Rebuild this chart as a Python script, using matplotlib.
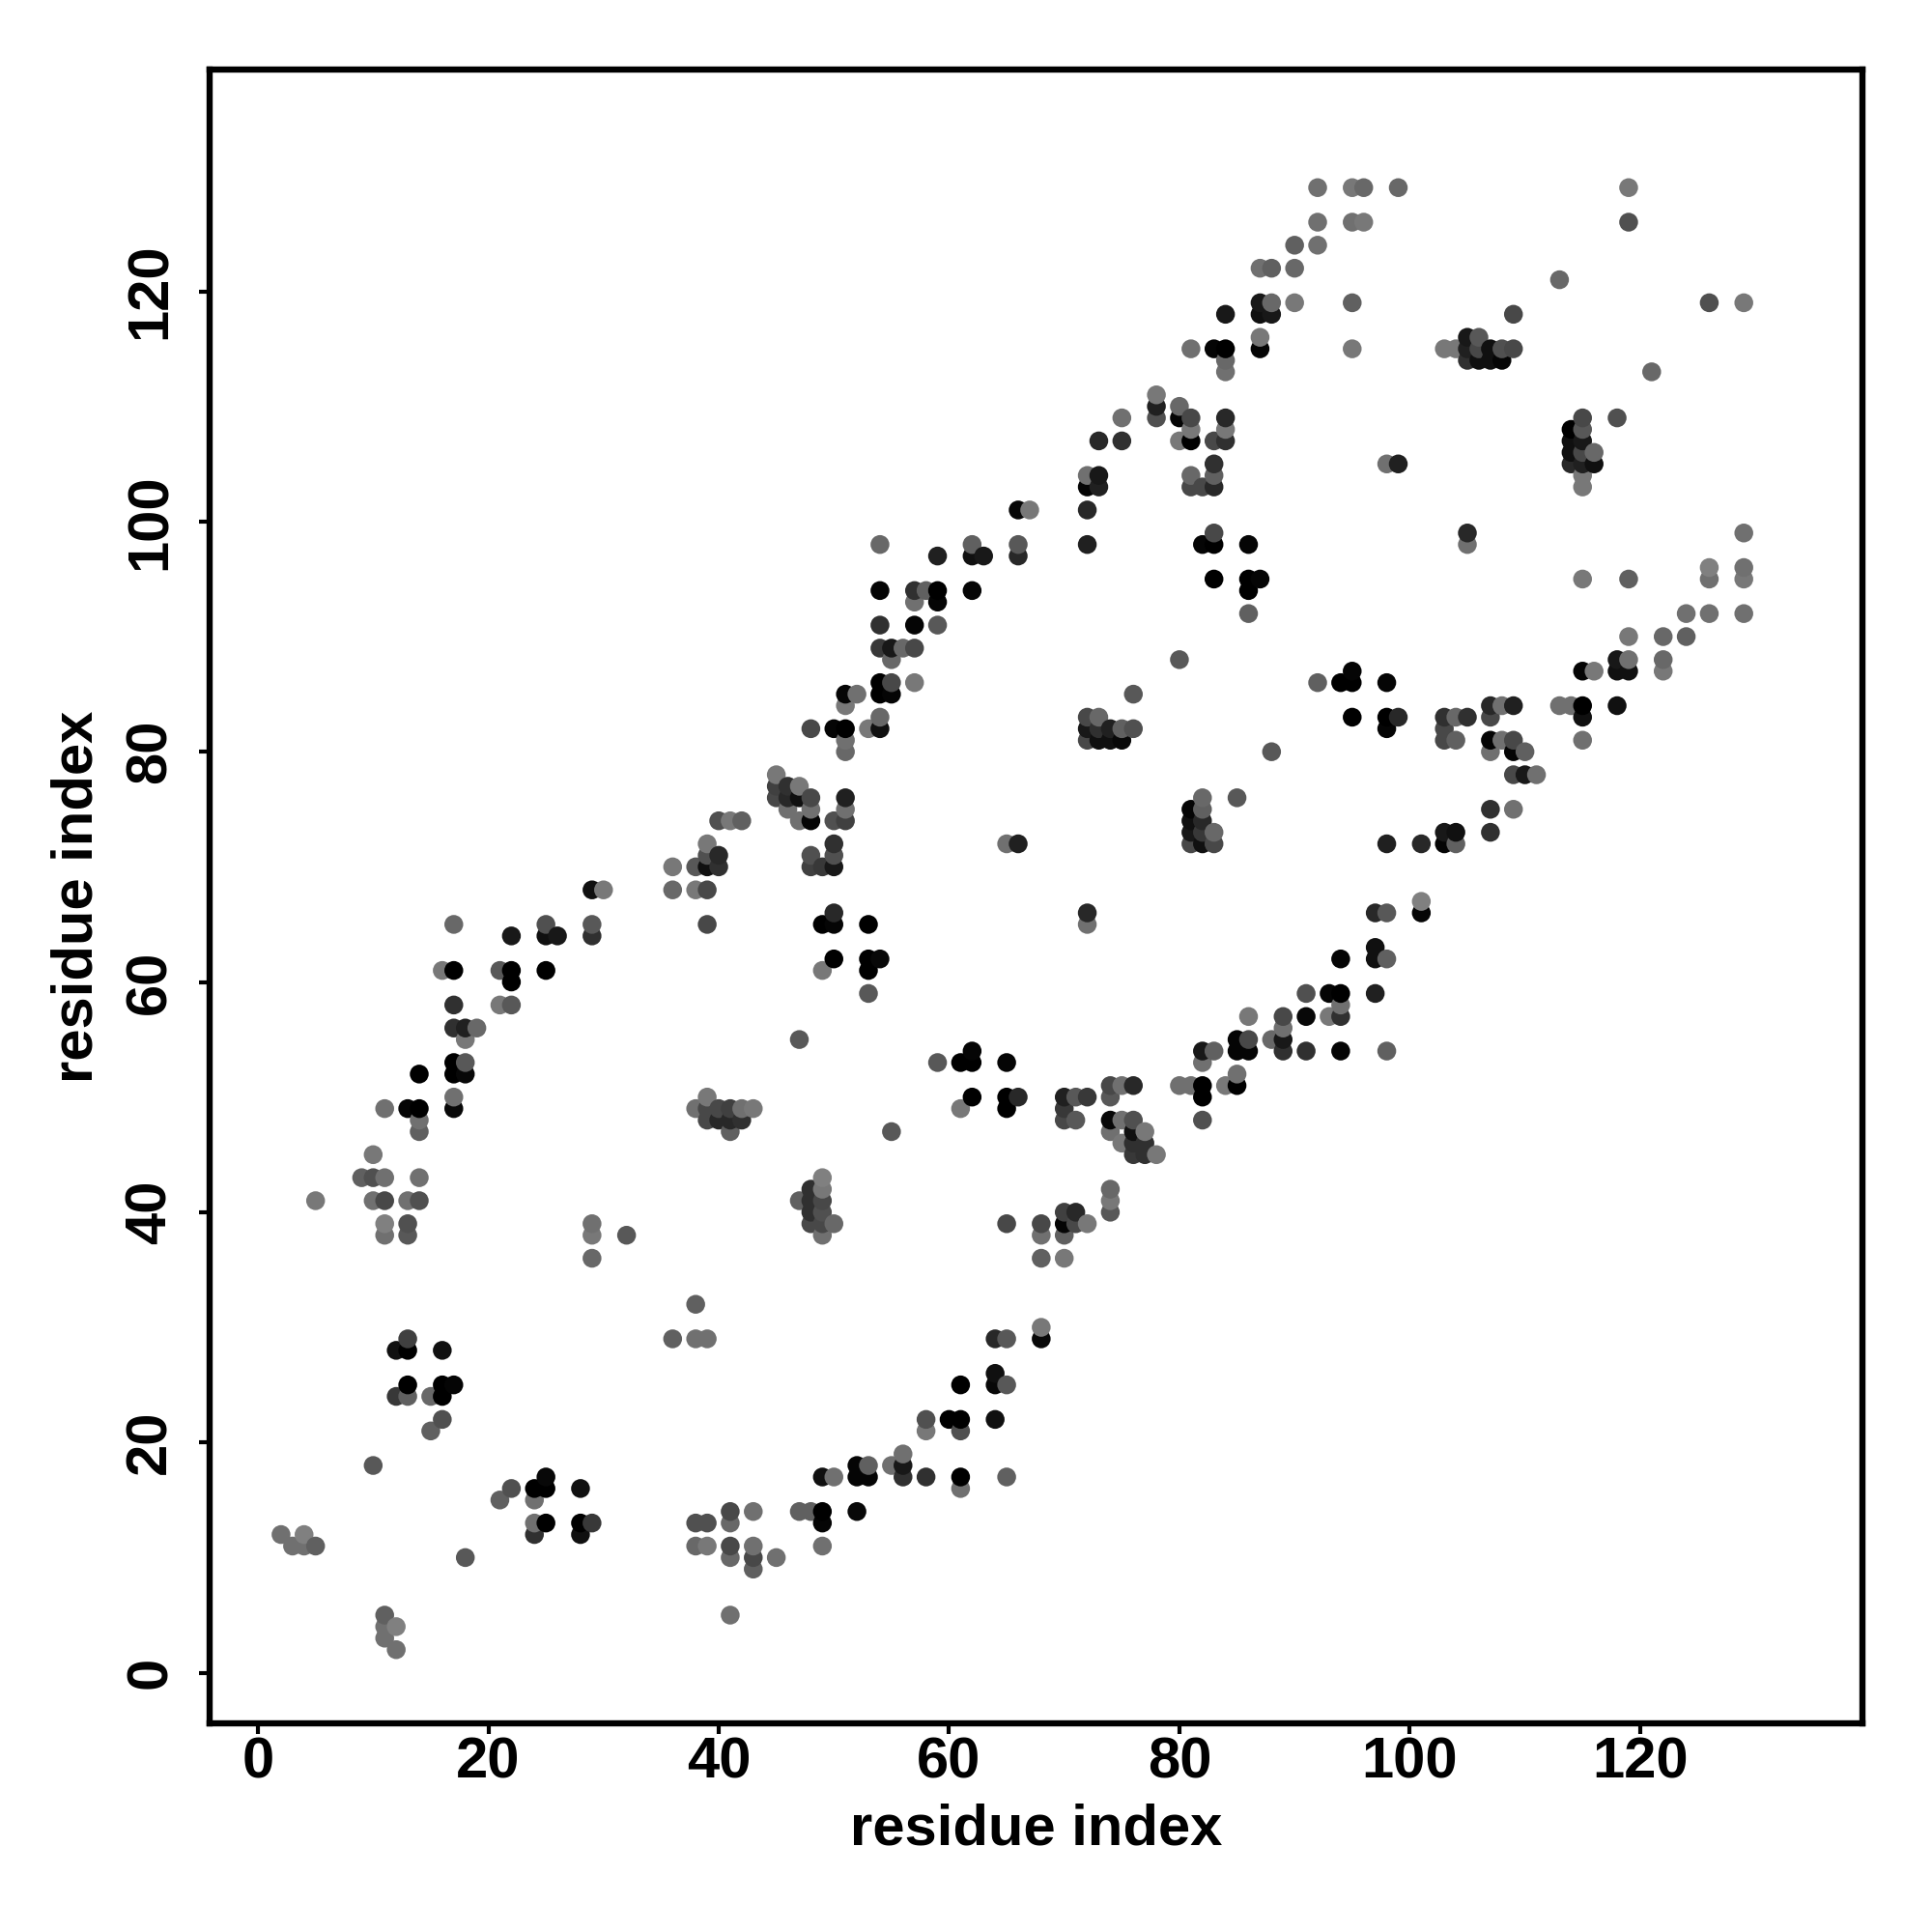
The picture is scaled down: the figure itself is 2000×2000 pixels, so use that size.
import numpy as np
import matplotlib
matplotlib.use('Agg')
import matplotlib.pyplot as plt

# residue contact map, one row per x residue
res_x = [2, 3, 4, 5, 9, 10, 11, 12, 13, 14, 15, 16, 17, 18, 19, 21, 22, 24, 25, 26, 28, 29, 30, 32, 36, 38, 39, 40, 41, 42, 43,
         45, 46, 47, 48, 49, 50, 51, 52, 53, 54, 55, 56, 57, 58, 59, 60, 61, 62, 63, 64, 65, 66, 67, 68, 70, 71, 72, 73, 74, 75,
         76, 77, 78, 80, 81, 82, 83, 84, 85, 86, 87, 88, 89, 90, 91, 92, 93, 94, 95, 96, 97, 98, 99, 101, 103, 104, 105, 106,
         107, 108, 109, 110, 111, 113, 114, 115, 116, 118, 119, 121, 122, 124, 126, 129]

res_y = [
    [12], [11], [11, 12], [11, 41], [43], [18, 41, 43, 45],
    [3, 4, 5, 38, 39, 41, 43, 49],
    [2, 4, 24, 28],
    [24, 25, 28, 29, 38, 39, 41, 49],
    [41, 43, 47, 48, 49, 52],
    [21, 24],
    [22, 24, 25, 28, 61],
    [25, 49, 50, 52, 53, 56, 58, 61, 65],
    [10, 52, 53, 55, 56],
    [56],
    [15, 58, 61],
    [16, 58, 60, 61, 64],
    [12, 13, 15, 16],
    [13, 16, 17, 61, 64, 65],
    [64],
    [12, 13, 16],
    [13, 36, 38, 39, 64, 65, 68],
    [68], [38],
    [29, 68, 70],
    [11, 13, 29, 32, 49, 68, 70],
    [11, 13, 29, 48, 49, 50, 65, 68, 70, 71, 72],
    [48, 49, 70, 71, 74],
    [5, 10, 11, 13, 14, 47, 48, 49, 74],
    [48, 49, 74],
    [9, 10, 11, 14, 49],
    [10, 76, 77, 78],
    [75, 76, 77],
    [14, 41, 55, 74, 76, 77],
    [14, 39, 40, 41, 42, 70, 71, 74, 75, 76, 82],
    [11, 13, 14, 17, 38, 39, 40, 41, 42, 43, 61, 65, 70],
    [17, 39, 62, 65, 66, 70, 71, 72, 74, 82],
    [74, 75, 76, 80, 81, 82, 84, 85],
    [14, 17, 18, 85],
    [17, 18, 59, 61, 62, 65, 82],
    [62, 82, 83, 85, 86, 89, 91, 94, 98],
    [18, 47, 85, 86, 88, 89],
    [17, 18, 19, 89],
    [86, 89, 91, 93, 94],
    [17, 21, 22, 94],
    [53, 91, 93, 94, 97],
    [22],
    [16, 17, 21, 22, 25, 49, 53],
    [50, 53, 54, 94, 97, 98],
    [97],
    [22, 25, 26, 29],
    [17, 25, 29, 39, 49, 50, 53, 72],
    [50, 72, 97, 98, 101],
    [101],
    [29, 30, 36, 38, 39],
    [36, 38, 39, 40, 48, 49, 50],
    [39, 40, 48, 50],
    [39, 50, 65, 66, 81, 82, 83, 98, 101, 103, 104],
    [81, 82, 83, 103, 104, 107],
    [40, 41, 42, 47, 48, 50, 51, 81, 82],
    [46, 48, 51, 81, 82, 107, 109],
    [45, 46, 47, 48, 51, 82, 85],
    [45, 46, 47],
    [45, 109, 110, 111],
    [51, 88, 107, 109, 110],
    [51, 72, 73, 74, 75, 103, 104, 107, 108, 109, 115],
    [48, 50, 51, 53, 54, 72, 73, 74, 75, 76, 98, 103],
    [54, 72, 73, 95, 98, 99, 103, 104, 105, 107, 115],
    [51, 107, 108, 109, 113, 114, 115, 118],
    [51, 52, 54, 55, 76],
    [54, 55, 57, 92, 94, 95, 98],
    [95, 115, 116, 118, 119, 122],
    [55, 80, 118, 119, 122],
    [54, 55, 56, 57],
    [119, 122, 124],
    [54, 57, 59],
    [86, 124, 126, 129],
    [57, 59],
    [54, 57, 58, 59, 62, 86],
    [83, 86, 87, 115, 119, 126, 129],
    [126, 129],
    [59, 62, 63, 66],
    [54, 62, 66, 72, 82, 83, 86, 105],
    [83, 105, 129],
    [66, 67, 72],
    [72, 73, 81, 82, 83, 115],
    [72, 73, 81, 83, 115],
    [83, 98, 99, 114, 115, 116],
    [114, 115, 116],
    [73, 75, 80, 81, 83, 84, 114, 115],
    [81, 84, 114, 115],
    [75, 78, 80, 81, 84, 115, 118],
    [78, 80],
    [78],
    [84, 121],
    [84, 105, 106, 107, 108],
    [81, 83, 84, 87, 95, 103, 104, 105, 106, 107, 108, 109],
    [87, 105, 106],
    [84, 87, 88, 109],
    [87, 88, 90, 95, 126, 129],
    [113],
    [87, 88, 90],
    [90, 92],
    [92, 95, 96, 119],
    [92, 95, 96, 99, 119],
]

# grey level of each point, 0 = black
res_gray = [
    [0x70], [0x70], [0x70, 0x80], [0x60, 0x78], [0x60], [0x58, 0x70, 0x50, 0x78],
    [0x70, 0x70, 0x60, 0x70, 0x80, 0x48, 0x70, 0x70],
    [0x70, 0x80, 0x38, 0x10],
    [0x60, 0x00, 0x00, 0x40, 0x58, 0x50, 0x70, 0x05],
    [0x50, 0x70, 0x60, 0x70, 0x00, 0x00],
    [0x60, 0x68],
    [0x50, 0x00, 0x00, 0x10, 0x78],
    [0x05, 0x08, 0x70, 0x00, 0x00, 0x30, 0x30, 0x00, 0x68],
    [0x58, 0x08, 0x58, 0x78, 0x20],
    [0x68],
    [0x60, 0x78, 0x58],
    [0x50, 0x58, 0x00, 0x00, 0x18],
    [0x30, 0x70, 0x70, 0x00],
    [0x00, 0x00, 0x08, 0x00, 0x10, 0x50],
    [0x18],
    [0x10, 0x00, 0x10],
    [0x38, 0x68, 0x78, 0x70, 0x30, 0x58, 0x10],
    [0x78], [0x58],
    [0x60, 0x68, 0x78],
    [0x68, 0x50, 0x70, 0x60, 0x70, 0x78, 0x58],
    [0x78, 0x50, 0x70, 0x48, 0x48, 0x78, 0x48, 0x48, 0x10, 0x50, 0x78],
    [0x28, 0x48, 0x30, 0x28, 0x50],
    [0x70, 0x68, 0x48, 0x68, 0x48, 0x60, 0x28, 0x40, 0x78],
    [0x30, 0x70, 0x60],
    [0x60, 0x48, 0x70, 0x70, 0x78],
    [0x70, 0x48, 0x40, 0x78],
    [0x70, 0x28, 0x30],
    [0x60, 0x60, 0x58, 0x70, 0x10, 0x78],
    [0x60, 0x48, 0x30, 0x30, 0x30, 0x40, 0x50, 0x05, 0x70, 0x48, 0x48],
    [0x70, 0x05, 0x00, 0x10, 0x70, 0x48, 0x50, 0x48, 0x78, 0x80, 0x78, 0x00, 0x38],
    [0x70, 0x68, 0x00, 0x05, 0x28, 0x18, 0x50, 0x30, 0x50, 0x05],
    [0x40, 0x70, 0x20, 0x68, 0x70, 0x00, 0x78, 0x05],
    [0x08, 0x05, 0x05, 0x70],
    [0x05, 0x60, 0x58, 0x00, 0x00, 0x00, 0x78],
    [0x08, 0x10, 0x68, 0x00, 0x00, 0x38, 0x30, 0x05, 0x68],
    [0x70, 0x58, 0x05, 0x48, 0x68, 0x18],
    [0x30, 0x18, 0x70, 0x68],
    [0x78, 0x48, 0x05, 0x70, 0x30],
    [0x30, 0x78, 0x50, 0x60],
    [0x58, 0x58, 0x05, 0x00, 0x20],
    [0x00],
    [0x70, 0x00, 0x50, 0x00, 0x00, 0x78, 0x00],
    [0x00, 0x00, 0x05, 0x05, 0x10, 0x60],
    [0x18],
    [0x10, 0x08, 0x10, 0x28],
    [0x60, 0x58, 0x58, 0x48, 0x00, 0x00, 0x05, 0x70],
    [0x28, 0x20, 0x28, 0x58, 0x08],
    [0x78],
    [0x08, 0x78, 0x60, 0x70, 0x48],
    [0x78, 0x60, 0x05, 0x40, 0x48, 0x38, 0x20],
    [0x48, 0x28, 0x58, 0x58],
    [0x78, 0x38, 0x70, 0x28, 0x48, 0x18, 0x48, 0x20, 0x28, 0x05, 0x70],
    [0x10, 0x30, 0x68, 0x20, 0x18, 0x28],
    [0x58, 0x78, 0x68, 0x70, 0x08, 0x58, 0x48, 0x10, 0x20],
    [0x78, 0x70, 0x70, 0x08, 0x60, 0x30, 0x70],
    [0x38, 0x30, 0x10, 0x50, 0x28, 0x50, 0x58],
    [0x30, 0x30, 0x78],
    [0x78, 0x50, 0x20, 0x78],
    [0x70, 0x58, 0x78, 0x05, 0x68],
    [0x70, 0x48, 0x18, 0x10, 0x05, 0x48, 0x68, 0x00, 0x78, 0x48, 0x70],
    [0x50, 0x00, 0x00, 0x70, 0x18, 0x10, 0x38, 0x28, 0x60, 0x68, 0x05, 0x48],
    [0x60, 0x48, 0x68, 0x00, 0x00, 0x48, 0x28, 0x60, 0x30, 0x48, 0x05],
    [0x78, 0x30, 0x78, 0x28, 0x70, 0x68, 0x00, 0x18],
    [0x00, 0x70, 0x05, 0x05, 0x58],
    [0x05, 0x48, 0x78, 0x60, 0x00, 0x00, 0x05],
    [0x05, 0x05, 0x78, 0x10, 0x18, 0x70],
    [0x68, 0x58, 0x18, 0x68, 0x60],
    [0x30, 0x18, 0x70, 0x48],
    [0x78, 0x68, 0x60],
    [0x30, 0x08, 0x50],
    [0x60, 0x70, 0x70, 0x70],
    [0x78, 0x05],
    [0x05, 0x30, 0x70, 0x00, 0x05, 0x00],
    [0x00, 0x00, 0x05, 0x78, 0x60, 0x70, 0x78],
    [0x78, 0x68],
    [0x20, 0x10, 0x10, 0x28],
    [0x60, 0x60, 0x58, 0x20, 0x05, 0x00, 0x05, 0x70],
    [0x28, 0x20, 0x68],
    [0x05, 0x80, 0x28],
    [0x05, 0x18, 0x48, 0x48, 0x30, 0x78],
    [0x60, 0x10, 0x60, 0x68, 0x78],
    [0x30, 0x70, 0x28, 0x30, 0x20, 0x18],
    [0x10, 0x48, 0x58],
    [0x30, 0x30, 0x70, 0x05, 0x48, 0x28, 0x10, 0x10],
    [0x70, 0x70, 0x05, 0x50],
    [0x70, 0x48, 0x05, 0x48, 0x20, 0x48, 0x48],
    [0x18, 0x60],
    [0x70],
    [0x70, 0x68],
    [0x70, 0x28, 0x10, 0x10, 0x00],
    [0x70, 0x10, 0x00, 0x05, 0x78, 0x78, 0x78, 0x20, 0x48, 0x18, 0x58, 0x48],
    [0x78, 0x10, 0x68],
    [0x10, 0x10, 0x18, 0x50],
    [0x10, 0x70, 0x78, 0x60, 0x50, 0x78],
    [0x68],
    [0x78, 0x68, 0x68],
    [0x60, 0x70],
    [0x70, 0x70, 0x80, 0x50],
    [0x70, 0x78, 0x70, 0x70, 0x78],
]

ticks = [0, 20, 40, 60, 80, 100, 120]

plt.rcParams['font.family'] = ['Liberation Sans', 'DejaVu Sans']
plt.rcParams['font.weight'] = 'bold'

x = np.concatenate([np.full(len(ys), xi) for xi, ys in zip(res_x, res_y)])
y = np.concatenate(res_y)
g = np.concatenate(res_gray) / 255.0
# later residues sit on top of earlier ones
order = np.lexsort((y, x))
colors = [(v, v, v) for v in g[order]]

fig = plt.figure(figsize=(20, 20), dpi=100)
ax = fig.add_axes([217 / 2000, 1 - 1784 / 2000, (1928 - 217) / 2000, (1784 - 71.5) / 2000])
ax.scatter(x[order], y[order], s=197, c=colors, linewidths=0, clip_on=False)

ax.set_xlim(-4.2, 139.3)
ax.set_ylim(-4.4, 139.3)
ax.set_xticks(ticks)
ax.set_yticks(ticks)
ax.set_xticklabels(ticks, fontsize=43, fontweight='bold')
ax.set_yticklabels(ticks, fontsize=43, fontweight='bold', rotation=90, va='center')
ax.tick_params(length=8, width=3)
ax.tick_params(axis='x', pad=2)
ax.tick_params(axis='y', pad=16)

for s in ax.spines.values():
    s.set_linewidth(4.6)

fig.text(1073 / 2000, 1 - 1894 / 2000, 'residue index', fontsize=43, fontweight='bold', ha='center', va='center')
fig.text(80.5 / 2000, 1 - 928 / 2000, 'residue index', fontsize=43, fontweight='bold', ha='center', va='center', rotation=90)

fig.savefig('out.png', dpi=100)
